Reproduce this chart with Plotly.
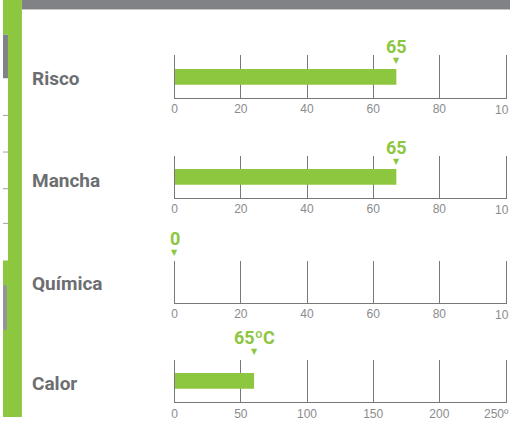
import plotly.graph_objects as go

# data
categories = ["Risco", "Mancha", "Química", "Calor"]
bar_values = [67, 67, 0, 60]
value_labels = ["65", "65", "0", "65ºC"]
axis_max = [100, 100, 100, 250]
tick_values = [
    [0, 20, 40, 60, 80, 100],
    [0, 20, 40, 60, 80, 100],
    [0, 20, 40, 60, 80, 100],
    [0, 50, 100, 150, 200, 250],
]
tick_labels = [
    ["0", "20", "40", "60", "80", "100"],
    ["0", "20", "40", "60", "80", "100"],
    ["0", "20", "40", "60", "80", "100"],
    ["0", "50", "100", "150", "200", "250ºC"],
]
# last tick label as it shows, cut by the right edge of the picture
edge_labels = ["10", "10", "10", "250º"]

W, H = 510, 421
GREEN = "#8dc63f"
DARK = "#6d6e71"
GRID = "#77787b"
TICK = "#8a8b8e"

# panel pixel geometry (top of gridlines, bottom axis line)
panel_px = [(56, 99), (157, 200), (263, 306), (363, 406)]
marker_px = [61, 163, 255, 355]
label_y_px = [79, 182, 286, 387]


def px_x(x):
    return x / W


def px_y(y):
    return 1 - y / H


fig = go.Figure()

for i, cat in enumerate(categories):
    n = "" if i == 0 else str(i + 1)
    top, bottom = panel_px[i]
    fig.add_trace(go.Bar(
        x=[bar_values[i]], y=[0], orientation="h", width=0.37,
        marker=dict(color=GREEN, line=dict(width=0)),
        xaxis="x" + n, yaxis="y" + n, hoverinfo="skip"
    ))
    # small down-pointing marker above the bar end
    fig.add_annotation(
        x=bar_values[i], y=px_y(marker_px[i]), xref="x" + n, yref="paper",
        yanchor="middle", text="▼", showarrow=False,
        font=dict(family="DejaVu Sans", size=8, color=GREEN)
    )
    fig.add_annotation(
        x=bar_values[i], y=px_y(marker_px[i] - 14), xref="x" + n, yref="paper",
        yanchor="middle", text=value_labels[i], showarrow=False,
        font=dict(family="Liberation Sans Narrow, Roboto", size=18,
                  color=GREEN, weight="bold")
    )
    fig.add_annotation(
        x=px_x(27), y=px_y(label_y_px[i]), xref="paper", yref="paper",
        xanchor="left", yanchor="middle", text=cat, showarrow=False,
        font=dict(family="Liberation Sans Narrow, Roboto", size=19,
                  color=DARK, weight="bold")
    )
    # the end tick label runs past the page edge, so only its visible part
    fig.add_annotation(
        x=1, y=px_y(bottom + 12), xref="paper", yref="paper",
        xanchor="right", yanchor="middle", text=edge_labels[i],
        showarrow=False, borderpad=0,
        font=dict(family="Liberation Sans, Arial", size=12, color=TICK)
    )
    fig.update_layout({
        "xaxis" + n: dict(
            domain=[px_x(172.7), px_x(505.5)], range=[0, axis_max[i]],
            anchor="y" + n, tickvals=tick_values[i], ticktext=tick_labels[i],
            showgrid=True, gridcolor=GRID, gridwidth=1, zeroline=False,
            showline=True, linecolor=GRID, linewidth=1, ticks="",
            tickfont=dict(family="Liberation Sans, Arial", size=12, color=TICK),
            fixedrange=True,
        ),
        # y axis only supplies the left/right edge lines
        "yaxis" + n: dict(
            domain=[px_y(bottom), px_y(top)], range=[-0.5, 0.5],
            anchor="x" + n, showticklabels=False, showgrid=False,
            zeroline=False, showline=True, mirror=True, linecolor=GRID,
            linewidth=1, ticks="", fixedrange=True,
        ),
    })

# page decorations around the chart
shapes = []


def rect(x0, y0, x1, y1, color):
    shapes.append(dict(type="rect", xref="paper", yref="paper",
                       x0=px_x(x0), x1=px_x(x1), y0=px_y(y1), y1=px_y(y0),
                       fillcolor=color, line=dict(width=0), layer="below"))


rect(19, 0, 510, 9, "#808285")
rect(19, 9, 510, 10, "#c7c8ca")
rect(5, 0, 19, 421, GREEN)
rect(0, 0, 5, 35, GREEN)
rect(0, 35, 5, 79, "#808285")
rect(0, 263, 5, 421, GREEN)
rect(0, 288, 4, 333, "#939598")
for y in [116, 153, 190, 225]:
    rect(0, y, 5, y + 1, "#9d9fa2")

fig.update_layout(
    width=W, height=H, autosize=False,
    margin=dict(l=0, r=0, t=0, b=0),
    paper_bgcolor="white", plot_bgcolor="rgba(0,0,0,0)",
    showlegend=False, barmode="overlay",
    shapes=shapes,
)

fig.write_html(
    "out.html",
    config={"displayModeBar": False, "responsive": False},
    post_script="document.body.style.margin='0';document.body.style.overflow='hidden';",
)
